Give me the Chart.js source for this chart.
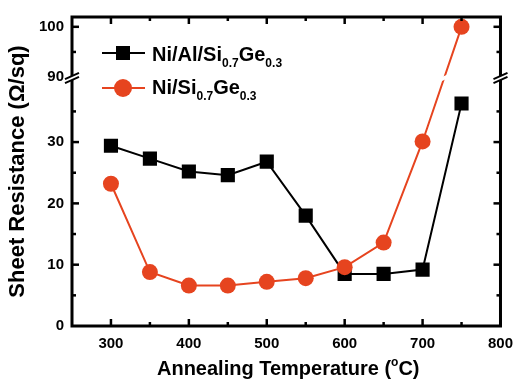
<!DOCTYPE html>
<html>
<head>
<meta charset="utf-8">
<script src="https://cdn.jsdelivr.net/npm/chart.js@4.4.1/dist/chart.umd.min.js"></script>
<style>
  html, body { margin: 0; padding: 0; background: #fff; }
  #wrap { width: 522px; height: 384px; }
</style>
</head>
<body>
<div id="wrap"><canvas id="chart" width="522" height="384"></canvas></div>
<script>
/* values */
const temps    = [300, 350, 400, 450, 500, 550, 600, 650, 700, 750];
const niAlSiGe = [29.4, 27.3, 25.2, 24.6, 26.8, 18.0, 8.5, 8.5, 9.2, 36.3];
const niSiGe   = [23.2, 8.8, 6.6, 6.6, 7.2, 7.8, 9.6, 13.6, 30.1, 100];

const xTicks      = [300, 400, 500, 600, 700, 800];
const xMinorTicks = [350, 450, 550, 650, 750];
const yTicks      = [0, 10, 20, 30, 90, 100];
const yMinorTicks = [5, 15, 25, 35, 95];

const FONT  = "'Liberation Sans', Arial, sans-serif";
const RED   = '#E6441F';
const BLACK = '#000';

/* broken y axis: 0–40 below the break, 90–102 above it (a bit compressed) */
const LOW_TOP = 40.4, HIGH_BASE = 90, HIGH_OFFSET = 40.6, HIGH_SCALE = 0.82;
const BREAK_AT = 40.45;
function toAxis(v) {
  return v <= LOW_TOP ? v : HIGH_OFFSET + (v - HIGH_BASE) * HIGH_SCALE;
}

function breakMark(ctx, cx, cy, half, withLines) {
  const d = half * 0.45, g = 2;
  ctx.fillStyle = '#fff';
  ctx.beginPath();
  ctx.moveTo(cx - half, cy + d - g);
  ctx.lineTo(cx + half, cy - d - g);
  ctx.lineTo(cx + half, cy - d + g);
  ctx.lineTo(cx - half, cy + d + g);
  ctx.closePath();
  ctx.fill();
  if (!withLines) return;
  ctx.strokeStyle = BLACK;
  ctx.lineWidth = 2;
  [-g, g].forEach(o => {
    ctx.beginPath();
    ctx.moveTo(cx - half, cy + d + o);
    ctx.lineTo(cx + half, cy - d + o);
    ctx.stroke();
  });
}

/* text with sub/superscripts, left aligned at baseline y */
function richText(ctx, x, y, parts, size) {
  ctx.textBaseline = 'alphabetic';
  ctx.textAlign = 'left';
  ctx.fillStyle = BLACK;
  parts.forEach(p => {
    const small = p.sub || p.sup;
    const s = small ? Math.round(size * 0.62) : size;
    ctx.font = `bold ${s}px ${FONT}`;
    const dy = p.sub ? size * 0.28 : p.sup ? -size * 0.45 : 0;
    ctx.fillText(p.t, x, y + dy);
    x += ctx.measureText(p.t).width;
  });
  return x;
}

function richWidth(ctx, parts, size) {
  let w = 0;
  parts.forEach(p => {
    const s = (p.sub || p.sup) ? Math.round(size * 0.62) : size;
    ctx.font = `bold ${s}px ${FONT}`;
    w += ctx.measureText(p.t).width;
  });
  return w;
}

const decor = {
  id: 'decor',
  afterDatasetsDraw(chart) {
    const { ctx, chartArea: a, scales: { x, y } } = chart;
    ctx.save();

    // gap in the red line where it crosses the axis break
    const yb = y.getPixelForValue(BREAK_AT);
    const n = temps.length - 1;
    const x1 = x.getPixelForValue(temps[n - 1]), y1 = y.getPixelForValue(toAxis(niSiGe[n - 1]));
    const x2 = x.getPixelForValue(temps[n]),     y2 = y.getPixelForValue(toAxis(niSiGe[n]));
    const f = (yb - y1) / (y2 - y1);
    breakMark(ctx, x1 + f * (x2 - x1), yb, 5, false);

    // frame
    ctx.strokeStyle = BLACK;
    ctx.lineWidth = 3;
    ctx.strokeRect(a.left, a.top, a.right - a.left, a.bottom - a.top);

    // inward ticks
    ctx.lineWidth = 2.5;
    const tick = (x0, y0, x1_, y1_) => {
      ctx.beginPath(); ctx.moveTo(x0, y0); ctx.lineTo(x1_, y1_); ctx.stroke();
    };
    const xt = (vals, len) => vals.forEach(v => {
      const px = x.getPixelForValue(v);
      tick(px, a.bottom, px, a.bottom - len);
      tick(px, a.top, px, a.top + len);
    });
    xt(xTicks, 7);
    xt(xMinorTicks, 4);
    const yt = (vals, len) => vals.forEach(v => {
      if (v === HIGH_BASE || v === 0) return;
      const py = y.getPixelForValue(toAxis(v));
      tick(a.left, py, a.left + len, py);
      tick(a.right, py, a.right - len, py);
    });
    yt(yTicks, 7);
    yt(yMinorTicks, 4);

    // axis breaks
    breakMark(ctx, a.left, yb, 7, true);
    breakMark(ctx, a.right, yb, 7, true);

    // legend
    const lx0 = 102, lx1 = 145, lmid = 123, tx = 152;
    ctx.lineWidth = 2;
    ctx.strokeStyle = BLACK;
    tick(lx0, 53, lx1, 53);
    ctx.fillStyle = BLACK;
    ctx.fillRect(lmid - 7, 53 - 7, 14, 14);
    richText(ctx, tx, 61, [{ t: 'Ni/Al/Si' }, { t: '0.7', sub: true }, { t: 'Ge' }, { t: '0.3', sub: true }], 20);

    ctx.strokeStyle = RED;
    tick(lx0, 88, lx1, 88);
    ctx.fillStyle = RED;
    ctx.beginPath(); ctx.arc(lmid, 88, 9, 0, Math.PI * 2); ctx.fill();
    richText(ctx, tx, 94, [{ t: 'Ni/Si' }, { t: '0.7', sub: true }, { t: 'Ge' }, { t: '0.3', sub: true }], 20);

    // x axis title
    const xParts = [{ t: 'Annealing Temperature (' }, { t: 'o', sup: true }, { t: 'C)' }];
    const w = richWidth(ctx, xParts, 20);
    richText(ctx, (a.left + a.right) / 2 - w / 2 + 2, 375, xParts, 20);

    ctx.restore();
  }
};

new Chart(document.getElementById('chart'), {
  type: 'line',
  data: {
    labels: temps,
    datasets: [
      {
        label: 'Ni/Al/Si0.7Ge0.3',
        data: temps.map((t, i) => ({ x: t, y: toAxis(niAlSiGe[i]) })),
        borderColor: BLACK,
        backgroundColor: BLACK,
        borderWidth: 2,
        pointStyle: 'rect',
        pointRadius: 10,
        pointBorderWidth: 0,
        order: 1,
      },
      {
        label: 'Ni/Si0.7Ge0.3',
        data: temps.map((t, i) => ({ x: t, y: toAxis(niSiGe[i]) })),
        borderColor: RED,
        backgroundColor: RED,
        borderWidth: 2,
        pointStyle: 'circle',
        pointRadius: 8,
        pointBorderWidth: 0,
        order: 0,
      },
    ],
  },
  plugins: [decor],
  options: {
    responsive: false,
    animation: false,
    layout: { padding: { top: 7, right: 12, left: 0, bottom: 0 } },
    plugins: { legend: { display: false }, tooltip: { enabled: false } },
    scales: {
      x: {
        type: 'linear',
        min: 250, max: 800,
        grid: { display: false, drawTicks: false },
        border: { display: false },
        afterBuildTicks: s => { s.ticks = xTicks.map(v => ({ value: v })); },
        afterFit: s => { s.height = 58; },
        ticks: {
          autoSkip: false,
          maxRotation: 0,
          color: BLACK,
          padding: 9,
          font: { family: FONT, size: 15, weight: 'bold' },
          callback: (v, i) => xTicks[i],
        },
      },
      y: {
        type: 'linear',
        min: 0, max: 50.4,
        grid: { display: false, drawTicks: false },
        border: { display: false },
        afterBuildTicks: s => { s.ticks = yTicks.map(v => ({ value: toAxis(v) })); },
        afterFit: s => { s.width = 72; },
        ticks: {
          autoSkip: false,
          color: BLACK,
          padding: 8,
          font: { family: FONT, size: 15, weight: 'bold' },
          callback: (v, i) => yTicks[i],
        },
        title: {
          display: true,
          text: 'Sheet Resistance (Ω/sq)',
          color: BLACK,
          font: { family: FONT, size: 22, weight: 'bold' },
          padding: { top: 5, bottom: 0 },
        },
      },
    },
  },
});
</script>
</body>
</html>
